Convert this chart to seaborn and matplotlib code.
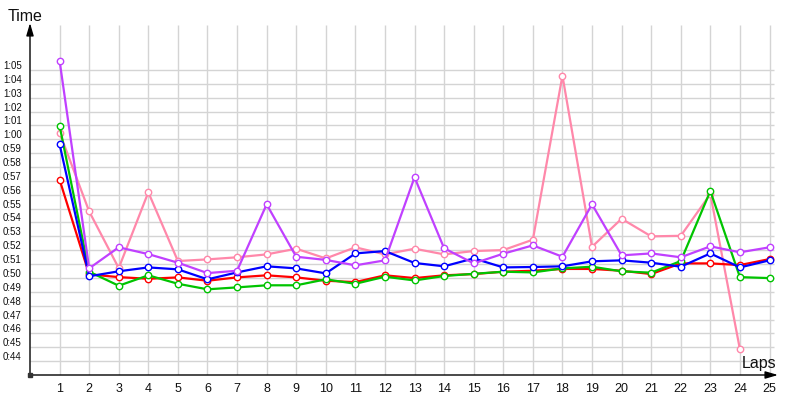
import numpy as np
import pandas as pd
import matplotlib
matplotlib.use("Agg")
import matplotlib.pyplot as plt
from matplotlib.transforms import ScaledTranslation
import seaborn as sns

# ---- data (lap times in seconds) ----
laps = list(range(1, 26))
red = [57.09, 50.26, 50.06, 49.94, 50.04, 49.80, 50.04, 50.19, 50.04, 49.80,
       49.70, 50.19, 49.99, 50.19, 50.28, 50.45, 50.52, 50.65, 50.65, 50.52,
       50.28, 51.05, 51.05, 50.93, 51.36]
green = [60.98, 50.45, 49.44, 50.19, 49.58, 49.18, 49.32, 49.47, 49.47, 49.90,
         49.58, 50.09, 49.82, 50.14, 50.30, 50.45, 50.40, 50.69, 50.81, 50.48,
         50.38, 51.22, 56.27, 50.06, 49.99]
blue = [59.64, 50.12, 50.48, 50.76, 50.62, 49.90, 50.40, 50.84, 50.69, 50.33,
        51.77, 51.94, 51.08, 50.84, 51.41, 50.76, 50.79, 50.84, 51.20, 51.27,
        51.10, 50.81, 51.77, 50.76, 51.27]
purple = [65.67, 50.69, 52.21, 51.72, 51.10, 50.35, 50.52, 55.31, 51.53, 51.30,
          50.91, 51.27, 57.26, 52.14, 51.05, 51.75, 52.35, 51.53, 55.31, 51.63,
          51.77, 51.49, 52.28, 51.85, 52.21]
pink = [60.48, 54.80, 50.71, 56.18, 51.22, 51.34, 51.49, 51.70, 52.11, 51.41,
        52.21, 51.70, 52.11, 51.70, 51.94, 52.01, 52.76, 64.59, 52.25, 54.27,
        53.00, 53.04, 56.05, 44.85, np.nan]
ytick_secs = list(range(44, 66))
ytick_labels = [f"{s // 60}:{s % 60:02d}" for s in ytick_secs]

series = [("pink", pink, "#ff88aa"), ("red", red, "#ff0000"),
          ("green", green, "#00c400"), ("blue", blue, "#0000ff"),
          ("purple", purple, "#c040ff")]

sns.set_style("white")
plt.rcParams["font.family"] = ["Liberation Sans", "DejaVu Sans"]

fig = plt.figure(figsize=(8, 4), dpi=100)
ax = fig.add_axes([30 / 800, 25 / 400, 748 / 800, 352 / 400])
px_x = 29.58
px_y = 13.864
xmax = 748 / px_x
ymin = 43
ymax = ymin + 352 / px_y
ax.set_xlim(0, xmax)
ax.set_ylim(ymin, ymax)

# grid
grid_c = "#d4d4d4"
ax.vlines(laps, ymin, ymin + 350 / px_y, color=grid_c, lw=1.0, zorder=0)
ax.hlines(ytick_secs, 0, 25 + 4.5 / px_x, color=grid_c, lw=1.0, zorder=0)

for name, vals, c in series:
    df = pd.DataFrame({"lap": laps, "t": vals}).dropna()
    sns.lineplot(data=df, x="lap", y="t", ax=ax, color=c, linewidth=1.6,
                 marker="o", markersize=4.6, markerfacecolor="white",
                 markeredgecolor=c, markeredgewidth=1.0, errorbar=None,
                 zorder=3)

ax.set_xlabel("")
ax.set_ylabel("")
for s in ax.spines.values():
    s.set_visible(False)

# axes with arrows
arrow = dict(arrowstyle="-|>,head_length=0.75,head_width=0.22", lw=1.0,
             color="black", shrinkA=0, shrinkB=0)
ax.annotate("", xy=(xmax, ymin), xytext=(0, ymin), xycoords="data",
            arrowprops=arrow, annotation_clip=False, zorder=5)
ax.annotate("", xy=(0, ymax), xytext=(0, ymin), xycoords="data",
            arrowprops=arrow, annotation_clip=False, zorder=5)
ax.plot([0], [ymin], "s", ms=2.5, color="#333333", clip_on=False, zorder=6)

ax.set_xticks(laps)
ax.set_xticklabels([str(l) for l in laps], fontsize=9, color="#101010")
ax.set_yticks(ytick_secs)
ax.set_yticklabels(ytick_labels, fontsize=7, color="#101010")
ax.tick_params(axis="both", length=0)
ax.tick_params(axis="x", pad=6)
ax.tick_params(axis="y", pad=6)
off = ScaledTranslation(0, 5 / 100, fig.dpi_scale_trans)
for lab in ax.get_yticklabels():
    lab.set_transform(lab.get_transform() + off)

fig.text(8 / 800, 1 - 21 / 400, "Time", ha="left", va="baseline",
         fontsize=11.5, color="#101010")
fig.text(742 / 800, 1 - 368 / 400, "Laps", ha="left", va="baseline",
         fontsize=11.5, color="#101010")

fig.savefig("out.png", dpi=100)
